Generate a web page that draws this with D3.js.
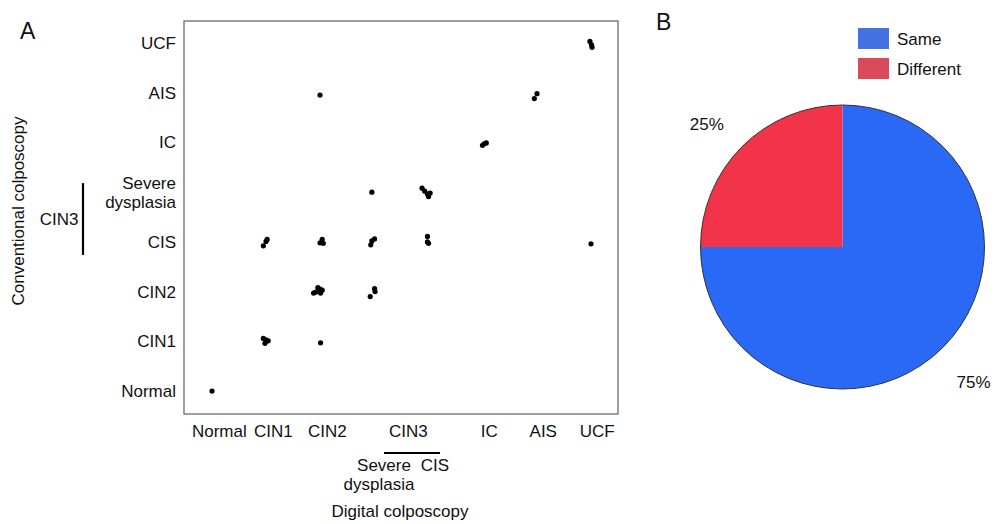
<!DOCTYPE html>
<html>
<head>
<meta charset="utf-8">
<script src="https://d3js.org/d3.v7.min.js"></script>
<style>
  body { margin: 0; background: #fff; }
  text { font-family: "Liberation Sans", Arial, Helvetica, sans-serif; fill: #111; }
</style>
</head>
<body>
<div id="chart"></div>
<script>
// categories
var digitalCats = ["Normal", "CIN1", "CIN2", "Severe dysplasia", "CIS", "IC", "AIS", "UCF"];
var conventionalCats = ["Normal", "CIN1", "CIN2", "CIS", "Severe dysplasia", "IC", "AIS", "UCF"];
var xTickLabels = ["Normal", "CIN1", "CIN2", "CIN3", "IC", "AIS", "UCF"];

// one entry per patient (category index + small jitter)
var digitalScore = [
  0.00,
  7.00, 7.03, 7.04,
  2.00,
  6.02, 5.97,
  5.01, 5.04, 5.08,
  2.96,
  3.89, 3.94, 3.99, 4.04, 4.01,
  1.02, 1.00, 0.95,
  2.04, 2.00, 2.06,
  3.01, 2.96, 2.94,
  3.99, 3.99, 4.01,
  7.02,
  1.88, 1.92, 1.96, 2.00, 2.04, 2.01,
  3.01, 3.02, 2.93,
  0.95, 1.00, 1.04, 0.98,
  2.01
];
var conventionalScore = [
  0.00,
  7.03, 6.96, 6.91,
  5.95,
  5.98, 5.88,
  4.94, 4.97, 4.99,
  4.00,
  4.08, 4.02, 3.96, 3.98, 3.91,
  3.05, 3.01, 2.92,
  3.05, 2.98, 2.97,
  3.06, 3.02, 2.94,
  3.11, 3.00, 2.97,
  2.96,
  1.97, 1.99, 2.08, 2.05, 2.03, 1.97,
  2.06, 2.00, 1.90,
  1.06, 1.03, 1.01, 0.96,
  0.97
];

// pie
var pieLabels = ["Same", "Different"];
var pieValues = [75, 25];
var pieColors = ["#2a69f6", "#f2344a"];
var legendColors = ["#4472e2", "#d94a5b"];

var width = 995, height = 524;

var svg = d3.select("#chart")
    .append("svg")
    .attr("width", width)
    .attr("height", height);

// ---------- panel A ----------
var x = d3.scaleLinear()
    .domain([-0.52, 7.52])
    .range([184, 618]);
var y = d3.scaleLinear()
    .domain([-0.46, 7.44])
    .range([414, 21]);

// plot frame
svg.append("rect")
    .attr("x", x.range()[0])
    .attr("y", y.range()[1])
    .attr("width", x.range()[1] - x.range()[0])
    .attr("height", y.range()[0] - y.range()[1])
    .attr("fill", "none")
    .attr("stroke", "#6b6b6b")
    .attr("stroke-width", 1.3);

// X axis (CIN3 label sits between its two sub-categories)
var cin3Pos = (digitalCats.indexOf("Severe dysplasia") + digitalCats.indexOf("CIS")) / 2;
var xTickValues = [0, 1, 2, cin3Pos, 5, 6, 7];
var xAxis = svg.append("g")
    .attr("transform", "translate(0," + y.range()[0] + ")")
    .call(d3.axisBottom(x)
        .tickValues(xTickValues)
        .tickFormat(function (d, i) { return xTickLabels[i]; })
        .tickSize(0)
        .tickPadding(11));
xAxis.select(".domain").remove();
xAxis.selectAll("text")
    .attr("dx", "0.4em")
    .style("font-size", "17px");

// Y axis
var yAxis = svg.append("g")
    .attr("transform", "translate(" + x.range()[0] + ",0)")
    .call(d3.axisLeft(y)
        .tickValues(d3.range(conventionalCats.length))
        .tickFormat(function (d) { return conventionalCats[d]; })
        .tickSize(0)
        .tickPadding(8));
yAxis.select(".domain").remove();
yAxis.selectAll("text")
    .style("font-size", "17px")
    .each(function (d) {
        var words = conventionalCats[d].split(" ");
        if (words.length < 2) return;
        var t = d3.select(this).text(null).attr("dy", null);
        t.append("tspan").attr("x", -8).attr("dy", "-0.2em").text(words[0]);
        t.append("tspan").attr("x", -8).attr("dy", "1.1em").text(words[1]);
    });

// dots
svg.append("g")
    .selectAll("circle")
    .data(digitalScore)
    .enter()
    .append("circle")
    .attr("cx", function (d) { return x(d); })
    .attr("cy", function (d, i) { return y(conventionalScore[i]); })
    .attr("r", 2.6)
    .style("fill", "#000");

// CIN3 bracket on the x side
var bx0 = x(digitalCats.indexOf("Severe dysplasia")) + 10,
    bx1 = x(digitalCats.indexOf("CIS")) + 12;
svg.append("line")
    .attr("x1", bx0).attr("x2", bx1)
    .attr("y1", 453).attr("y2", 453)
    .attr("stroke", "#000").attr("stroke-width", 2.2);
svg.append("text")
    .attr("x", bx0).attr("y", 471)
    .attr("text-anchor", "middle")
    .style("font-size", "17px")
    .text("Severe");
svg.append("text")
    .attr("x", bx0 - 5).attr("y", 490)
    .attr("text-anchor", "middle")
    .style("font-size", "17px")
    .text("dysplasia");
svg.append("text")
    .attr("x", bx1 - 5).attr("y", 471)
    .attr("text-anchor", "middle")
    .style("font-size", "17px")
    .text("CIS");

// CIN3 bracket on the y side
var by0 = y(conventionalCats.indexOf("Severe dysplasia")) - 9,
    by1 = y(conventionalCats.indexOf("CIS")) + 13;
svg.append("line")
    .attr("x1", 83).attr("x2", 83)
    .attr("y1", by0).attr("y2", by1)
    .attr("stroke", "#000").attr("stroke-width", 2.2);
svg.append("text")
    .attr("x", 59).attr("y", (by0 + by1) / 2 + 6)
    .attr("text-anchor", "middle")
    .style("font-size", "17px")
    .text("CIN3");

// axis titles
svg.append("text")
    .attr("x", 400).attr("y", 517)
    .attr("text-anchor", "middle")
    .style("font-size", "17px")
    .text("Digital colposcopy");
svg.append("text")
    .attr("transform", "translate(24,211) rotate(-90)")
    .attr("text-anchor", "middle")
    .style("font-size", "17px")
    .text("Conventional colposcopy");

// panel letters
svg.append("text")
    .attr("x", 20).attr("y", 39)
    .style("font-size", "23px")
    .text("A");
svg.append("text")
    .attr("x", 656).attr("y", 30)
    .style("font-size", "23px")
    .text("B");

// ---------- panel B ----------
var pie = d3.pie().sort(null)(pieValues);
var radius = 142;
var arc = d3.arc().innerRadius(0).outerRadius(radius);
var pg = svg.append("g")
    .attr("transform", "translate(842.5,247)");

pg.selectAll("path")
    .data(pie)
    .enter()
    .append("path")
    .attr("d", arc)
    .style("fill", function (d, i) { return pieColors[i]; });

pg.append("circle")
    .attr("r", radius)
    .attr("fill", "none")
    .attr("stroke", "#333")
    .attr("stroke-width", 1);

// percent labels, pushed outside the rim
var labelArc = d3.arc().innerRadius(radius + 40).outerRadius(radius + 40);
pg.selectAll(".pct")
    .data(pie)
    .enter()
    .append("text")
    .attr("class", "pct")
    .attr("transform", function (d, i) {
        var c = labelArc.centroid(d);
        return i === 0 ? "translate(131,135)" : "translate(" + (c[0] - 7) + "," + (c[1] + 6) + ")";
    })
    .attr("text-anchor", "middle")
    .attr("dy", "0.35em")
    .style("font-size", "17px")
    .text(function (d) { return d.data + "%"; });

// legend
var legend = svg.append("g")
    .attr("transform", "translate(858,28)");
var item = legend.selectAll("g")
    .data(pieLabels)
    .enter()
    .append("g")
    .attr("transform", function (d, i) { return "translate(0," + (i * 30) + ")"; });
item.append("rect")
    .attr("width", 31)
    .attr("height", 21)
    .style("fill", function (d, i) { return legendColors[i]; });
item.append("text")
    .attr("x", 39)
    .attr("y", 17)
    .style("font-size", "17px")
    .text(function (d) { return d; });
</script>
</body>
</html>
